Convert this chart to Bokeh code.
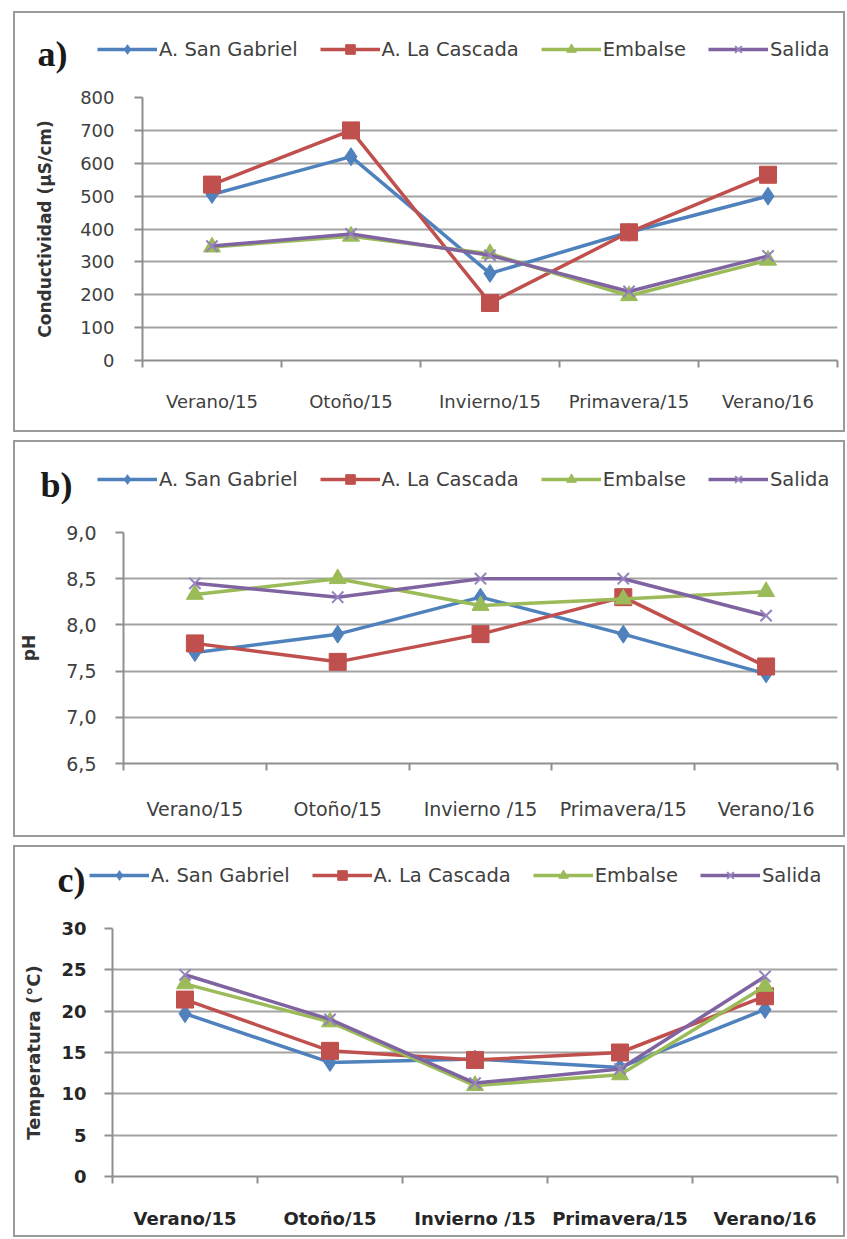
from bokeh.plotting import figure
from bokeh.models import Range1d, FixedTicker, Legend, LegendItem, Label
from bokeh.layouts import column, row
from bokeh.embed import file_html
from bokeh.resources import INLINE

# ---------------- data ----------------
seasons_a = ["Verano/15", "Otoño/15", "Invierno/15", "Primavera/15", "Verano/16"]
seasons_b = ["Verano/15", "Otoño/15", "Invierno /15", "Primavera/15", "Verano/16"]
seasons_c = ["Verano/15", "Otoño/15", "Invierno /15", "Primavera/15", "Verano/16"]
series_names = ["A. San Gabriel", "A. La Cascada", "Embalse", "Salida"]

cond_san_gabriel = [505, 620, 265, 390, 500]
cond_la_cascada = [535, 700, 175, 390, 565]
cond_embalse = [345, 378, 325, 197, 305]
cond_salida = [348, 385, 320, 210, 318]

ph_san_gabriel = [7.70, 7.90, 8.30, 7.90, 7.47]
ph_la_cascada = [7.80, 7.60, 7.90, 8.30, 7.55]
ph_embalse = [8.33, 8.50, 8.21, 8.28, 8.36]
ph_salida = [8.45, 8.30, 8.50, 8.50, 8.10]

temp_san_gabriel = [19.7, 13.8, 14.2, 13.2, 20.2]
temp_la_cascada = [21.4, 15.2, 14.1, 15.0, 21.8]
temp_embalse = [23.3, 18.7, 11.0, 12.3, 23.0]
temp_salida = [24.4, 19.0, 11.3, 13.0, 24.2]

cond_ticks = [0, 100, 200, 300, 400, 500, 600, 700, 800]
ph_ticks = [6.5, 7.0, 7.5, 8.0, 8.5, 9.0]
ph_tick_labels = ["6,5", "7,0", "7,5", "8,0", "8,5", "9,0"]
temp_ticks = [0, 5, 10, 15, 20, 25, 30]

# ---------------- styles ----------------
COLORS = ["#4F81BD", "#C0504D", "#9BBB59", "#8064A2"]
MARKERS = ["diamond", "square", "triangle", "x"]
SIZES = [18, 17, 17, 16]
FONT = "DejaVu Sans"
W = 828
HEADER_H = 62


def add_series(p, xs, values):
    rends = []
    for vals, col, mk, sz in zip(values, COLORS, MARKERS, SIZES):
        lr = p.line(xs, vals, line_color=col, line_width=3.5, line_join="round")
        if mk == "x":
            sr = p.scatter(xs, vals, marker=mk, size=sz, line_color="#9581bd", line_width=2)
        else:
            sr = p.scatter(xs, vals, marker=mk, size=sz, fill_color=col, line_color=col)
        rends.append((lr, sr))
    return rends


def make_header(tag, cats, values, legend_x, legend_y, tag_x, tag_y):
    # header strip holding the panel tag and the legend
    h = figure(width=W, height=HEADER_H,
               x_range=Range1d(-0.5, len(cats) - 0.5), y_range=Range1d(-2, -1),
               min_border_left=0, min_border_right=0, min_border_top=0, min_border_bottom=0,
               x_axis_type=None, y_axis_type=None,
               output_backend="svg", toolbar_location=None,
               background_fill_color="white", border_fill_color="white",
               outline_line_color=None)
    h.grid.visible = False
    xs = list(range(len(cats)))
    rends = add_series(h, xs, values)  # series glyphs (outside this strip's range) for the legend
    items = [LegendItem(label=n, renderers=list(r)) for n, r in zip(series_names, rends)]
    leg_h = 24
    legend = Legend(items=items, orientation="horizontal",
                    location=(legend_x, legend_y),
                    glyph_width=60, glyph_height=leg_h, label_height=leg_h,
                    label_standoff=2, spacing=22, padding=0, margin=0,
                    label_text_font=FONT, label_text_font_size="19.5px",
                    label_text_color="#404040",
                    background_fill_alpha=0, border_line_alpha=0)
    h.add_layout(legend)
    h.add_layout(Label(x=tag_x, y=tag_y, x_units="screen", y_units="screen",
                       text=tag, text_font="Liberation Serif", text_font_style="bold",
                       text_font_size="36px", text_color="#1a1a1a",
                       text_align="left", text_baseline="middle"))
    return h


def make_plot(cats, values, ticks, tick_labels, y_label,
              fw, fh, left, top, bottom, tick_size, tick_bold, ylab_size,
              x_standoff, y_standoff, ylab_standoff):
    y0, y1 = ticks[0], ticks[-1]
    p = figure(frame_width=fw, frame_height=fh,
               min_border_left=left, min_border_right=W - left - fw,
               min_border_top=top, min_border_bottom=bottom,
               x_range=Range1d(-0.5, len(cats) - 0.5),
               y_range=Range1d(y0, y1),
               output_backend="svg", toolbar_location=None,
               background_fill_color="white", border_fill_color="white",
               outline_line_color=None)
    p.xgrid.visible = False
    p.ygrid.grid_line_color = "#a3a3a3"
    p.ygrid.grid_line_width = 2
    p.ygrid.ticker = FixedTicker(ticks=ticks)

    xs = list(range(len(cats)))
    xa = p.xaxis[0]
    xa.ticker = FixedTicker(ticks=xs, minor_ticks=[i - 0.5 for i in range(len(cats) + 1)])
    xa.major_label_overrides = {i: c for i, c in enumerate(cats)}
    xa.major_tick_out = 0
    xa.major_tick_in = 0
    xa.minor_tick_out = 7
    xa.minor_tick_in = 0
    xa.minor_tick_line_color = "#8f8f8f"
    xa.minor_tick_line_width = 2
    xa.axis_line_color = "#8f8f8f"
    xa.axis_line_width = 2
    xa.major_label_standoff = x_standoff
    xa.major_label_text_font = FONT
    xa.major_label_text_font_size = tick_size
    xa.major_label_text_font_style = "bold" if tick_bold else "normal"
    xa.major_label_text_color = "#262626" if tick_bold else "#404040"

    ya = p.yaxis[0]
    ya.ticker = FixedTicker(ticks=ticks, minor_ticks=[])
    ya.major_label_overrides = {t: l for t, l in zip(ticks, tick_labels)}
    ya.major_tick_out = 8
    ya.major_tick_in = 0
    ya.major_tick_line_color = "#8f8f8f"
    ya.major_tick_line_width = 2
    ya.axis_line_color = "#8f8f8f"
    ya.axis_line_width = 2
    ya.major_label_standoff = y_standoff
    ya.major_label_text_font = FONT
    ya.major_label_text_font_size = tick_size
    ya.major_label_text_font_style = "bold" if tick_bold else "normal"
    ya.major_label_text_color = "#262626" if tick_bold else "#404040"
    ya.axis_label = y_label
    ya.axis_label_text_font = FONT
    ya.axis_label_text_font_style = "bold"
    ya.axis_label_text_font_size = ylab_size
    ya.axis_label_text_color = "#333333"
    ya.axis_label_standoff = ylab_standoff

    add_series(p, xs, values)
    return p


BOX = {"border": "2px solid #9a9a9a"}

vals_a = [cond_san_gabriel, cond_la_cascada, cond_embalse, cond_salida]
vals_b = [ph_san_gabriel, ph_la_cascada, ph_embalse, ph_salida]
vals_c = [temp_san_gabriel, temp_la_cascada, temp_embalse, temp_salida]

panel_a = column(
    row(make_header("a)", seasons_a, vals_a, legend_x=82, legend_y=14, tag_x=22, tag_y=22)),
    make_plot(seasons_a, vals_a, cond_ticks, [str(t) for t in cond_ticks],
              "Conductividad (µS/cm)", fw=695, fh=263, left=127, top=22, bottom=70,
              tick_size="18px", tick_bold=False, ylab_size="17px",
              x_standoff=23, y_standoff=20, ylab_standoff=22),
    spacing=0, styles=BOX)

panel_b = column(
    row(make_header("b)", seasons_b, vals_b, legend_x=82, legend_y=13, tag_x=25, tag_y=20)),
    make_plot(seasons_b, vals_b, ph_ticks, ph_tick_labels,
              "pH", fw=714, fh=231, left=108, top=28, bottom=72,
              tick_size="19px", tick_bold=False, ylab_size="17px",
              x_standoff=27, y_standoff=19, ylab_standoff=24),
    spacing=0, styles=BOX)

panel_c = column(
    row(make_header("c)", seasons_c, vals_c, legend_x=74, legend_y=22, tag_x=42, tag_y=30)),
    make_plot(seasons_c, vals_c, temp_ticks, [str(t) for t in temp_ticks],
              "Temperatura (°C)", fw=725, fh=248, left=97, top=19, bottom=59,
              tick_size="18px", tick_bold=True, ylab_size="18px",
              x_standoff=24, y_standoff=18, ylab_standoff=14),
    spacing=0, styles=BOX)

layout = column(panel_a, panel_b, panel_c, spacing=8, margin=(11, 0, 0, 13))

open("out.html", "w").write(file_html(layout, INLINE))
